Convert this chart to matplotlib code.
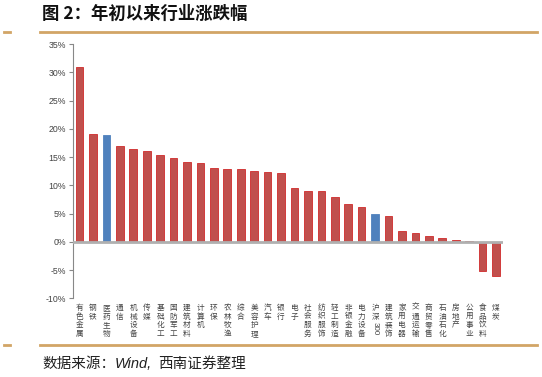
import matplotlib
matplotlib.use("Agg")
import matplotlib.pyplot as plt
from matplotlib.lines import Line2D
from matplotlib.transforms import blended_transform_factory

plt.rcParams['font.family'] = ['Noto Sans CJK SC', 'DejaVu Sans']

categories = ["有色金属", "钢铁", "医药生物", "通信", "机械设备", "传媒", "基础化工", "国防军工",
              "建筑材料", "计算机", "环保", "农林牧渔", "综合", "美容护理", "汽车", "银行",
              "电子", "社会服务", "纺织服饰", "轻工制造", "非银金融", "电力设备", "沪深300", "建筑装饰",
              "家用电器", "交通运输", "商贸零售", "石油石化", "房地产", "公用事业", "食品饮料", "煤炭"]
values = [31.0, 19.1, 18.9, 17.0, 16.5, 16.1, 15.4, 14.8,
          14.1, 14.0, 13.1, 12.9, 12.9, 12.5, 12.4, 12.2,
          9.5, 9.0, 9.0, 8.0, 6.6, 6.1, 5.0, 4.5,
          1.9, 1.6, 1.1, 0.6, 0.3, 0.1, -5.1, -6.1]
highlight = ["医药生物", "沪深300"]
y_ticks = [-10, -5, 0, 5, 10, 15, 20, 25, 30, 35]

W, H = 542, 377
fig = plt.figure(figsize=(W / 100, H / 100), dpi=100)
fig.patch.set_facecolor("white")

ax_left, ax_right = 72.8, 502.7
ax_top, ax_bot = 44.0, 298.3
ax = fig.add_axes([ax_left / W, 1 - ax_bot / H, (ax_right - ax_left) / W, (ax_bot - ax_top) / H])

x = list(range(len(categories)))
colors = ["#4F81BD" if c in highlight else "#C0504D" for c in categories]
edges = ["#4F81BD" if c in highlight else "#D02A2A" for c in categories]
ax.bar(x, values, width=0.57, color=colors, edgecolor=edges, linewidth=0.6, zorder=2)

ax.set_xlim(-0.5, len(categories) - 0.5)
ax.set_ylim(-10, 35)
ax.set_yticks(y_ticks)
ax.set_yticklabels([f"{t}%" for t in y_ticks], family=['Liberation Sans', 'DejaVu Sans'],
                   fontsize=6.3, color="#444444")
ax.tick_params(axis='y', direction='out', length=3, width=0.8, color="#888888", pad=2)
ax.set_xticks([])
for s in ["top", "right", "bottom"]:
    ax.spines[s].set_visible(False)
ax.spines["left"].set_color("#888888")
ax.spines["left"].set_linewidth(0.8)
ax.axhline(0, color="#B0B0B0", linewidth=2.0, zorder=3)

# vertical category labels
trans = blended_transform_factory(ax.transData, fig.transFigure)
label_top = 1 - 304 / H
for xi, cat in zip(x, categories):
    if cat == "沪深300":
        ax.text(xi, label_top, "沪\n深", transform=trans, ha="center", va="top",
                fontsize=5.5, color="#444444", linespacing=1.1)
        ax.text(xi, 1 - 321.5 / H, "300", transform=trans, ha="center", va="top",
                rotation=270, fontsize=5.8, color="#444444",
                family=['Liberation Sans', 'DejaVu Sans'])
    else:
        ax.text(xi, label_top, "\n".join(cat), transform=trans, ha="center", va="top",
                fontsize=5.5, color="#444444", linespacing=1.1)

# title
fig.text(42 / W, 1 - 14 / H, "图 2：年初以来行业涨跌幅", fontsize=12.5, fontweight="bold",
         ha="left", va="center", color="#111111")

line_color = "#D2A566"
for yy in (31.5, 345):
    fig.add_artist(Line2D([40 / W, 537 / W], [1 - yy / H, 1 - yy / H], color=line_color,
                          linewidth=2.0, transform=fig.transFigure))
    fig.add_artist(Line2D([4 / W, 10 / W], [1 - yy / H, 1 - yy / H], color=line_color,
                          linewidth=2.0, transform=fig.transFigure))

# source note
fig.canvas.draw()
renderer = fig.canvas.get_renderer()
sy = 1 - 364 / H
t1 = fig.text(42 / W, sy, "数据来源：", fontsize=10.5, ha="left", va="center", color="#222222")
bb = t1.get_window_extent(renderer)
t2 = fig.text(bb.x1 / W, sy, "Wind,", fontsize=10.5, ha="left", va="center", color="#222222",
              style="italic", family=['Liberation Sans', 'DejaVu Sans'])
bb2 = t2.get_window_extent(renderer)
fig.text(bb2.x1 / W + 6 / W, sy, "西南证券整理", fontsize=10.5, ha="left", va="center", color="#222222")

fig.savefig("out.png", dpi=100, facecolor="white")
